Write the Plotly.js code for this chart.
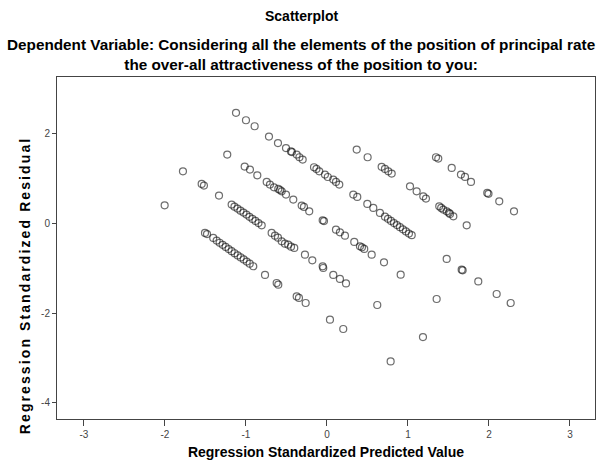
<!DOCTYPE html>
<html>
<head>
<meta charset="utf-8">
<script src="https://cdn.plot.ly/plotly-3.0.1.min.js"></script>
<style>
  html, body { margin: 0; padding: 0; background: #fff; }
  #chart { width: 596px; height: 464px; }
</style>
</head>
<body>
<div id="chart"></div>
<script>
// Regression standardized predicted values (x) and residuals (y)
const predicted = [
  // band A
  1.346, 1.374, 1.540, 1.654, 1.704, 1.778, 1.979, 1.994, 2.127, 2.309,
  // band B
  0.367, 0.502, 0.675, 0.716, 0.757, 0.799, 1.025, 1.107, 1.189, 1.222, 1.386, 1.410, 1.436, 1.478, 1.505, 1.519, 1.560, 1.725,
  // band C
  -1.123, -1.000, -0.893, -0.716, -0.605, -0.506, -0.445, -0.432, -0.374, -0.340, -0.300, -0.160, -0.130, -0.095, -0.025, 0.010, 0.078, 0.111, 0.152,
  0.325, 0.374, 0.498, 0.572, 0.654, 0.716, 0.753, 0.790, 0.827, 0.864, 0.901, 0.938, 0.975, 1.012, 1.046,
  1.478, 1.663, 1.675, 1.868, 2.095, 2.268,
  // band D
  -1.231, -1.016, -0.951, -0.860, -0.744, -0.704, -0.654, -0.601, -0.580, -0.559, -0.506, -0.416, -0.312, -0.284, -0.219, -0.053, -0.037,
  0.111, 0.160, 0.222, 0.337, 0.407, 0.432, 0.460, 0.552, 0.704, 0.910, 1.354,
  // band E
  -1.778, -1.547, -1.519, -1.333, -1.177, -1.142, -1.105, -1.068, -1.031, -0.994, -0.957, -0.920, -0.883, -0.846, -0.806,
  -0.683, -0.642, -0.605, -0.559, -0.519, -0.478, -0.444, -0.404, -0.272, -0.181, -0.053, -0.046, 0.078, 0.160, 0.235, 0.621, 1.185,
  // band F
  -2.004, -1.506, -1.481, -1.404, -1.362, -1.325, -1.288, -1.251, -1.214, -1.177, -1.140, -1.102, -1.065, -1.028, -0.991, -0.954, -0.910,
  -0.765, -0.621, -0.601, -0.374, -0.346, -0.263, 0.037, 0.201, 0.786
];
const residual = [
  // band A
  1.480, 1.451, 1.243, 1.094, 1.042, 0.931, 0.685, 0.665, 0.498, 0.275,
  // band B
  1.652, 1.480, 1.266, 1.221, 1.167, 1.116, 0.833, 0.721, 0.609, 0.558, 0.386, 0.350, 0.313, 0.275, 0.240, 0.217, 0.163, -0.038,
  // band C
  2.471, 2.306, 2.172, 1.942, 1.797, 1.685, 1.610, 1.596, 1.540, 1.480, 1.429, 1.257, 1.221, 1.167, 1.094, 1.040, 0.982, 0.931, 0.871,
  0.647, 0.596, 0.440, 0.350, 0.239, 0.154, 0.107, 0.060, 0.013, -0.033, -0.080, -0.127, -0.174, -0.221, -0.257,
  -0.788, -1.027, -1.042, -1.288, -1.569, -1.770,
  // band D
  1.540, 1.272, 1.205, 1.078, 0.931, 0.871, 0.810, 0.775, 0.750, 0.721, 0.647, 0.536, 0.402, 0.373, 0.275, 0.074, 0.056,
  -0.134, -0.194, -0.268, -0.408, -0.507, -0.529, -0.565, -0.692, -0.864, -1.138, -1.681,
  // band E
  1.167, 0.886, 0.848, 0.625, 0.424, 0.379, 0.335, 0.290, 0.246, 0.201, 0.152, 0.105, 0.060, 0.013, -0.038,
  -0.208, -0.268, -0.313, -0.395, -0.446, -0.469, -0.513, -0.542, -0.692, -0.819, -0.953, -0.989, -1.145, -1.234, -1.333, -1.815, -2.529,
  // band F
  0.408, -0.208, -0.234, -0.319, -0.379, -0.426, -0.473, -0.520, -0.567, -0.614, -0.661, -0.708, -0.754, -0.799, -0.846, -0.893, -0.951,
  -1.145, -1.324, -1.362, -1.623, -1.658, -1.770, -2.143, -2.350, -3.074
];
const xTicks = [-3, -2, -1, 0, 1, 2, 3];
const yTicks = [-4, -2, 0, 2];

const titleText = 'Scatterplot';
const subtitleLines = [
  'Dependent Variable: Considering all the elements of the position of principal rate',
  'the over-all attractiveness of the position to you:'
];
const xTitleText = 'Regression Standardized Predicted Value';
const yTitleText = 'Regression Standardized Residual';

const fontFam = '"Liberation Sans", Arial, sans-serif';

const trace = {
  type: 'scatter',
  mode: 'markers',
  x: predicted,
  y: residual,
  marker: {
    symbol: 'circle-open',
    size: 7,
    color: 'rgba(20,20,20,0.62)',
    line: { width: 1.2, color: 'rgba(20,20,20,0.62)' }
  },
  hoverinfo: 'skip',
  showlegend: false
};

const axisCommon = {
  showgrid: false,
  zeroline: false,
  showline: true,
  linecolor: '#444',
  linewidth: 1,
  mirror: true,
  ticks: 'outside',
  tickcolor: '#444',
  tickwidth: 1,
  tickfont: { family: fontFam, size: 10, color: '#444' }
};

const layout = {
  width: 596,
  height: 464,
  margin: { l: 57, r: 1, t: 77, b: 45 },
  paper_bgcolor: '#fff',
  plot_bgcolor: '#fff',
  font: { family: fontFam, color: '#000' },
  xaxis: Object.assign({}, axisCommon, {
    range: [-3.333, 3.309],
    tickvals: xTicks,
    ticktext: xTicks.map(String),
    ticklen: 6,
    title: { text: xTitleText, font: { family: fontFam, size: 14, weight: 'bold', color: '#000' }, standoff: 8 }
  }),
  yaxis: Object.assign({}, axisCommon, {
    range: [-4.357, 3.27],
    tickvals: yTicks,
    ticktext: yTicks.map(String),
    ticklen: 4
  }),
  annotations: [
    { text: '<b>' + titleText + '</b>', xref: 'paper', yref: 'paper', x: 0.4536, y: 1, yshift: 61, showarrow: false, xanchor: 'center', yanchor: 'middle', font: { family: fontFam, size: 14, color: '#000' } },
    { text: '<b>' + subtitleLines.join('<br>') + '</b>', xref: 'paper', yref: 'paper', x: 0.4536, y: 1, yshift: 22.5, showarrow: false, xanchor: 'center', yanchor: 'middle', font: { family: fontFam, size: 15.3, color: '#000' } },
    { text: '<b>' + yTitleText + '</b>', xref: 'paper', yref: 'paper', x: -0.0595, y: 0.39, textangle: -90, showarrow: false, xanchor: 'center', yanchor: 'middle', font: { family: fontFam, size: 14, color: '#000' } }
  ]
};

Plotly.newPlot('chart', [trace], layout, { staticPlot: true, displayModeBar: false }).then(function (gd) {
  gd.querySelectorAll('.annotation-text').forEach(function (t) {
    if (t.textContent === yTitleText) t.style.letterSpacing = '2.1px';
  });
});
</script>
</body>
</html>
